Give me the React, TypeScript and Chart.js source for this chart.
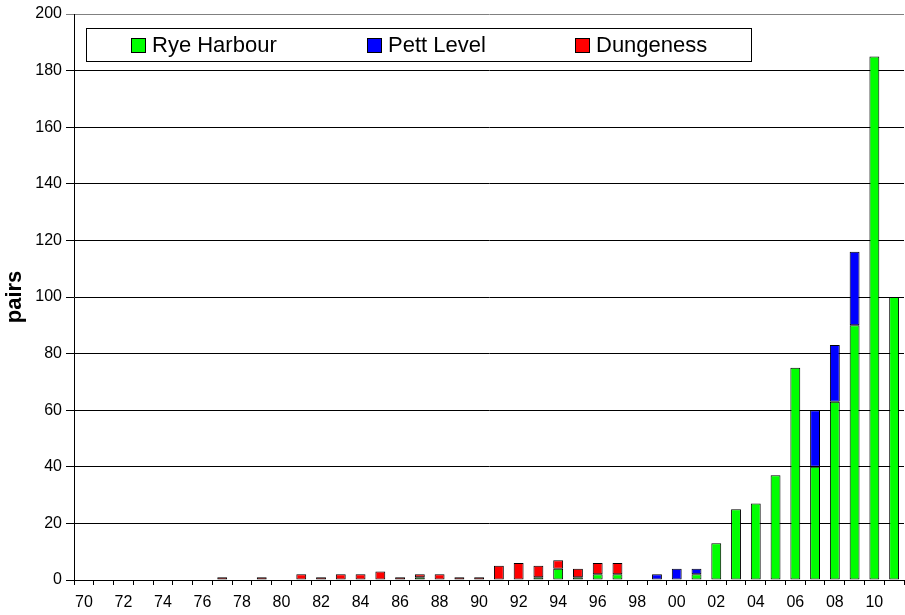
import React, { useEffect, useRef } from "react";
import { Chart, registerables } from "chart.js";

Chart.register(...registerables);

const years = [
  "70", "71", "72", "73", "74", "75", "76", "77", "78", "79",
  "80", "81", "82", "83", "84", "85", "86", "87", "88", "89",
  "90", "91", "92", "93", "94", "95", "96", "97", "98", "99",
  "00", "01", "02", "03", "04", "05", "06", "07", "08", "09",
  "10", "11",
];

const ryeHarbour = [
  0, 0, 0, 0, 0, 0, 0, 0, 0, 0,
  0, 0, 0, 0, 0, 0, 0, 1, 0, 0,
  0, 0, 0, 1, 4, 1, 2, 2, 0, 0,
  0, 2, 13, 25, 27, 37, 75, 40, 63, 90,
  185, 100,
];

const pettLevel = [
  0, 0, 0, 0, 0, 0, 0, 0, 0, 0,
  0, 0, 0, 0, 0, 0, 0, 0, 0, 0,
  0, 0, 0, 0, 0, 0, 0, 0, 0, 2,
  4, 2, 0, 0, 0, 0, 0, 20, 20, 26,
  0, 0,
];

const dungeness = [
  0, 0, 0, 0, 0, 0, 0, 1, 0, 1,
  0, 2, 1, 2, 2, 3, 1, 1, 2, 1,
  1, 5, 6, 4, 3, 3, 4, 4, 0, 0,
  0, 0, 0, 0, 0, 0, 0, 0, 0, 0,
  0, 0,
];

const yTicks = [0, 20, 40, 60, 80, 100, 120, 140, 160, 180, 200];

const seriesNames = ["Rye Harbour", "Pett Level", "Dungeness"];
const seriesColors = ["#00FF00", "#0000FF", "#FF0000"];

const FONT = "'Liberation Sans', Arial, sans-serif";

const boxLegendPlugin = {
  id: "boxLegend",
  afterDraw(chart: any) {
    const ctx = chart.ctx;
    ctx.save();
    ctx.fillStyle = "#ffffff";
    ctx.fillRect(86.5, 28.5, 665, 33);
    ctx.strokeStyle = "#000000";
    ctx.lineWidth = 1;
    ctx.strokeRect(86.5, 28.5, 665, 33);
    const squareX = [131, 367, 575];
    ctx.font = `22px ${FONT}`;
    ctx.textBaseline = "middle";
    ctx.textAlign = "left";
    seriesNames.forEach((name, i) => {
      ctx.fillStyle = seriesColors[i];
      ctx.fillRect(squareX[i] + 0.5, 38.5, 14, 14);
      ctx.strokeStyle = "#000000";
      ctx.strokeRect(squareX[i] + 0.5, 38.5, 14, 14);
      ctx.fillStyle = "#000000";
      ctx.fillText(name, squareX[i] + 21, 46);
    });
    ctx.restore();
  },
};

export default function App() {
  const ref = useRef<HTMLCanvasElement | null>(null);

  useEffect(() => {
    document.body.style.margin = "0";
    const canvas = ref.current;
    if (!canvas) return;
    const toNull = (arr: number[]) => arr.map((v) => (v === 0 ? null : v));
    const all = [ryeHarbour, pettLevel, dungeness];
    const chart = new Chart(canvas, {
      type: "bar",
      data: {
        labels: years,
        datasets: all.map((arr, i) => ({
          label: seriesNames[i],
          data: toNull(arr) as any,
          backgroundColor: seriesColors[i],
          borderColor: "#000000",
          borderWidth: 1,
          borderSkipped: false,
          categoryPercentage: 1,
          barPercentage: 0.5,
        })),
      },
      options: {
        responsive: false,
        animation: false,
        devicePixelRatio: 1,
        layout: { padding: { top: 14, right: 1, left: 0, bottom: 0 } },
        plugins: {
          legend: { display: false },
          tooltip: { enabled: false },
          title: { display: false },
        },
        scales: {
          x: {
            stacked: true,
            offset: true,
            grid: {
              offset: true,
              drawOnChartArea: false,
              drawTicks: true,
              tickLength: 5,
              color: "#000000",
            },
            border: { color: "#000000", width: 1 },
            ticks: {
              autoSkip: false,
              maxRotation: 0,
              minRotation: 0,
              padding: 8,
              color: "#000000",
              font: { family: FONT, size: 16 },
              callback: (_v: any, i: number) => (i % 2 === 0 ? years[i] : ""),
            },
            afterFit: (s: any) => {
              s.height = 35;
            },
          },
          y: {
            stacked: true,
            min: yTicks[0],
            max: yTicks[yTicks.length - 1],
            afterBuildTicks: (s: any) => {
              s.ticks = yTicks.map((v) => ({ value: v }));
            },
            grid: {
              color: (c: any) => (c.tick && c.tick.value === 200 ? "#808080" : "#000000"),
              lineWidth: 1,
              tickLength: 8,
            },
            border: { color: "#000000", width: 1 },
            ticks: {
              padding: 4,
              color: "#000000",
              font: { family: FONT, size: 16 },
            },
            title: {
              display: true,
              text: "pairs",
              color: "#000000",
              font: { family: FONT, size: 22, weight: "bold" },
              padding: { top: 2, bottom: 0 },
            },
            afterFit: (s: any) => {
              s.width = 74;
            },
          },
        },
      },
      plugins: [boxLegendPlugin],
    });
    return () => chart.destroy();
  }, []);

  return (
    <div style={{ position: "absolute", left: 0, top: 0, width: 905, height: 615, background: "#fff" }}>
      <canvas ref={ref} width={905} height={615} style={{ width: 905, height: 615, display: "block" }} />
    </div>
  );
}
